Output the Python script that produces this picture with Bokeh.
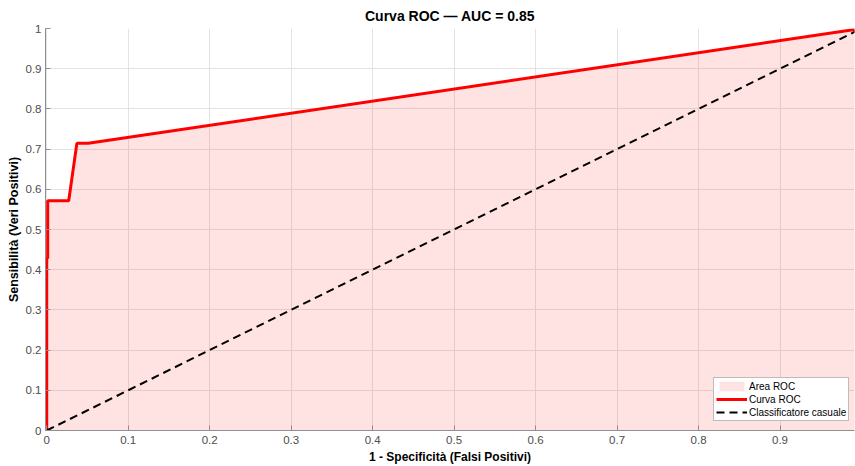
from bokeh.plotting import figure
from bokeh.models import FixedTicker, Legend, LegendItem, Range1d
from bokeh.embed import file_html
from bokeh.resources import INLINE

# ---- data ----
fpr = [0.0, 0.0, 0.0012, 0.0012, 0.027, 0.037, 0.051, 1.0]
tpr = [0.0, 0.4286, 0.4286, 0.5714, 0.5714, 0.7143, 0.7143, 1.0]
diag_x = [0.0, 1.0]
diag_y = [0.0, 1.0]
x_ticks = [0, 0.1, 0.2, 0.3, 0.4, 0.5, 0.6, 0.7, 0.8, 0.9]
x_tick_labels = ["0", "0.1", "0.2", "0.3", "0.4", "0.5", "0.6", "0.7", "0.8", "0.9"]
y_ticks = [0, 0.1, 0.2, 0.3, 0.4, 0.5, 0.6, 0.7, 0.8, 0.9, 1]
y_tick_labels = ["0", "0.1", "0.2", "0.3", "0.4", "0.5", "0.6", "0.7", "0.8", "0.9", "1"]
title_text = "Curva ROC \u2014 AUC = 0.85"
x_label = "1 - Specificit\u00e0 (Falsi Positivi)"
y_label = "Sensibilit\u00e0 (Veri Positivi)"

FONT = "Liberation Sans"

p = figure(width=855, height=466, output_backend="svg", toolbar_location=None,
           x_range=Range1d(-0.0015, 0.9914), y_range=Range1d(0, 1),
           min_border_left=45, min_border_right=1, min_border_top=28,
           min_border_bottom=36)
p.outline_line_color = None
p.background_fill_color = "white"

p.title.text = title_text
p.title.align = "center"
p.title.text_font = FONT
p.title.text_font_size = "14px"
p.title.text_font_style = "bold"
p.title.text_color = "#000000"
p.title.offset = 0

for ax, ticks, labels in ((p.xaxis[0], x_ticks, x_tick_labels), (p.yaxis[0], y_ticks, y_tick_labels)):
    ax.ticker = FixedTicker(ticks=ticks)
    ax.major_label_overrides = {t: l for t, l in zip(ticks, labels)}
    ax.major_tick_in = 5
    ax.major_tick_out = 0
    ax.minor_tick_in = 0
    ax.minor_tick_out = 0
    ax.axis_line_color = "#8f8f8f"
    ax.major_tick_line_color = "#8f8f8f"
    ax.major_label_text_font = FONT
    ax.major_label_text_font_size = "11.5px"
    ax.major_label_text_color = "#4d4d4d"
    ax.axis_label_text_font = FONT
    ax.axis_label_text_font_size = "12.5px"
    ax.axis_label_text_font_style = "bold"
    ax.axis_label_text_color = "#000000"

p.xaxis.axis_label = x_label
p.yaxis.axis_label = y_label
p.xaxis.axis_label_text_font_size = "12px"
p.xaxis.major_label_standoff = 5
p.yaxis.major_label_standoff = 4
p.xaxis.axis_label_standoff = 3
p.yaxis.axis_label_standoff = 2

p.xgrid.ticker = FixedTicker(ticks=x_ticks)
p.ygrid.ticker = FixedTicker(ticks=y_ticks)
p.grid.grid_line_color = "#e3e3e3"
p.grid.grid_line_width = 1

area = p.varea(x=fpr, y1=[0] * len(fpr), y2=tpr, fill_color="#ff0000", fill_alpha=0.115)
curve = p.line(fpr, tpr, line_color="#ff0000", line_width=3)
diag = p.line(diag_x, diag_y, line_color="#000000", line_width=2, line_dash="8 5")

legend = Legend(items=[LegendItem(label="Area ROC", renderers=[area]),
                       LegendItem(label="Curva ROC", renderers=[curve]),
                       LegendItem(label="Classificatore casuale", renderers=[diag])],
                location=(668, 9))
legend.label_text_font = FONT
legend.label_text_font_size = "10px"
legend.label_text_color = "#000000"
legend.label_standoff = 2
legend.label_height = 12
legend.glyph_height = 12
legend.glyph_width = 31
legend.spacing = 1
legend.padding = 2
legend.margin = 0
legend.border_line_color = "#7a7a7a"
legend.border_line_width = 1
legend.background_fill_color = "white"
legend.background_fill_alpha = 1
p.add_layout(legend, "center")

open("out.html", "w").write(file_html(p, INLINE))
